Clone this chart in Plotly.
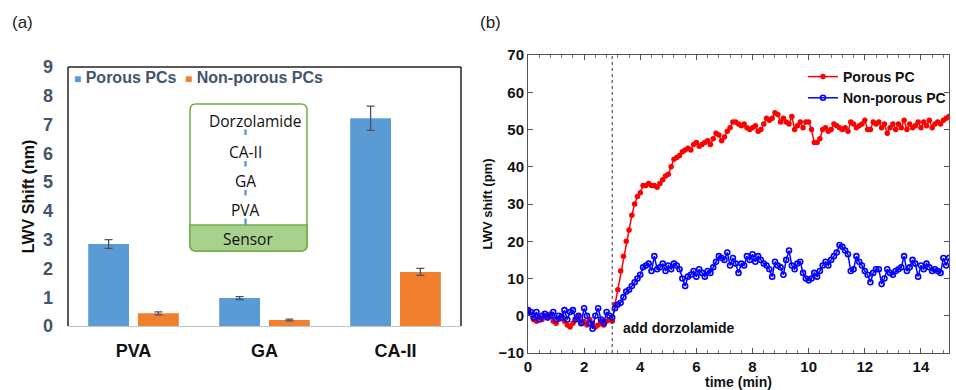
import plotly.graph_objects as go

# ---------------- Panel (a) data ----------------
categories = ["PVA", "GA", "CA-II"]
porous_vals = [2.85, 0.97, 7.22]
porous_err = [0.15, 0.05, 0.42]
nonporous_vals = [0.44, 0.21, 1.88]
nonporous_err = [0.05, 0.03, 0.12]
y_ticks_a = [0, 1, 2, 3, 4, 5, 6, 7, 8, 9]
legend_a = ["Porous PCs", "Non-porous PCs"]

# ---------------- Panel (b) data ----------------
time_min = [round(i * 0.1, 1) for i in range(151)]
porous_pc = [
    1.5, 0.5, -1, -1.5, -0.5, -1, 0, -0.5, 0.5, -1.5,
    -2, -1, 0, -1.5, -2.5, -3, -2, -1, 0, -2,
    -1.5, -2.5, -1, -2, -3, -2.5, -1.5, -2.5, -1.5, -1,
    -1.5, 3, 7, 12, 16, 20, 23, 27, 30, 32,
    33, 35, 35, 35.5, 35, 35, 34.5, 35.5, 36.5, 37.5,
    38, 40, 42, 42.5, 43, 44, 44.5, 45, 44.5, 46,
    46.5, 45.5, 46, 46.5, 47, 46, 47.5, 49, 48.5, 47,
    48, 49.5, 50.5, 52, 52, 51.5, 51, 51.5, 50.5, 50,
    50.5, 51, 49.5, 50, 51.5, 53, 52.5, 53, 54.5, 54,
    52, 53, 52, 51.5, 53.5, 50, 51, 52, 50.5, 52,
    52, 50, 46.5, 46.5, 47.5, 50, 50.5, 49.5, 50, 51.5,
    51, 50.5, 50, 50.5, 49.5, 52, 51.5, 50.5, 51, 51.5,
    52.5, 50, 50, 52, 51.5, 52, 50.5, 51.5, 49, 50.5,
    51.5, 50, 51.5, 50.5, 52.5, 50, 51.5, 50.5, 51, 52,
    50.5, 52, 51, 52.5, 50.5, 51.5, 52, 51.5, 52.5, 53,
    53.5,
]
nonporous_pc = [
    1.5, 1, -0.5, 1, -1, 0, 0.5, -0.5, 0, 1,
    -1, 0, -0.5, 1.5, -1, 1, 1.5, -1, 0, -2,
    2, 0, -2, -3.5, 0, 2, -1, -2, 1, 0,
    -0.5, 2, 3, 3.5, 5, 6.5, 7, 8, 9, 10,
    11, 13, 13.5, 14, 12, 16, 12.5, 13, 14, 12,
    13.5, 12.5, 14, 13.5, 12.5, 10, 8, 10.5, 11, 12,
    10.5, 12.5, 11.5, 10.5, 12, 11.5, 13, 14.5, 16, 15.5,
    15, 17, 13.5, 15.5, 14, 11.5, 14, 13.5, 16, 15,
    16.5, 14.5, 16, 15, 14, 13.5, 12.5, 10.5, 14.5, 13.5,
    13, 11, 15, 17.5, 13.5, 12.5, 14, 14.5, 11.5, 10,
    9.5, 10, 11.5, 10.5, 12, 13.5, 14.5, 13.5, 15, 16,
    17, 19, 18.5, 17.5, 16.5, 12, 12.5, 16, 14.5, 13.5,
    12, 11, 9, 11.5, 12.5, 12.5, 8.5, 10, 12.5, 11.5,
    11, 12, 12.5, 13, 16, 12, 13, 15, 14, 10.5,
    13.5, 12.5, 14, 13, 12, 12.5, 12, 11.5, 15.5, 13.5,
    15.5,
]
x_ticks_b = [0, 2, 4, 6, 8, 10, 12, 14, 15]
y_ticks_b = [-10, 0, 10, 20, 30, 40, 50, 60, 70]
add_time = 3

W, H = 956, 390
def px(x):
    return x / W
def py(y):
    return 1 - y / H

BLUE = "#5B9BD5"
ORANGE = "#F07F2E"
SLATE = "#44546A"
FONT = "Arial, Liberation Sans, sans-serif"

fig = go.Figure()

fig.add_trace(go.Bar(
    x=categories, y=porous_vals, name=legend_a[0], showlegend=False,
    marker=dict(color=BLUE, line=dict(width=0)),
    error_y=dict(type="data", array=porous_err, color=SLATE, thickness=1.3, width=4),
    xaxis="x", yaxis="y",
))
fig.add_trace(go.Bar(
    x=categories, y=nonporous_vals, name=legend_a[1], showlegend=False,
    marker=dict(color=ORANGE, line=dict(width=0)),
    error_y=dict(type="data", array=nonporous_err, color=SLATE, thickness=1.3, width=4),
    xaxis="x", yaxis="y",
))

fig.add_trace(go.Scatter(
    x=time_min, y=porous_pc, name="Porous PC", mode="lines+markers",
    line=dict(color="#FF0000", width=1.5),
    marker=dict(color="#FF0000", size=5.5, symbol="circle"),
    xaxis="x2", yaxis="y2",
))
fig.add_trace(go.Scatter(
    x=time_min, y=nonporous_pc, name="Non-porous PC", mode="lines+markers",
    line=dict(color="#0000FF", width=1.5),
    marker=dict(color="#0000FF", size=5, symbol="circle-open", line=dict(width=1.6, color="#0000FF")),
    xaxis="x2", yaxis="y2",
))

shapes = []
# panel (a) box: left, top, right in black
for (x0, y0, x1, y1) in [(0, 0, 0, 1), (0, 1, 1, 1), (1, 0, 1, 1)]:
    shapes.append(dict(type="line", xref="x domain", yref="y domain",
                       x0=x0, y0=y0, x1=x1, y1=y1, line=dict(color="#222", width=1.5)))

# inset: green rounded box with Sensor band
bx0, bx1, by0, by1, bs = 190, 307, 104, 251, 225
r = 6
def rr_path(x0, y0, x1, y1, r, top_round=True, bottom_round=True):
    X0, X1 = px(x0), px(x1)
    Y0, Y1 = py(y0), py(y1)
    rx, ry = r / W, r / H
    p = ""
    if top_round:
        p += f"M{X0+rx},{Y0} L{X1-rx},{Y0} Q{X1},{Y0} {X1},{Y0-ry} "
    else:
        p += f"M{X0},{Y0} L{X1},{Y0} "
    if bottom_round:
        p += f"L{X1},{Y1+ry} Q{X1},{Y1} {X1-rx},{Y1} L{X0+rx},{Y1} Q{X0},{Y1} {X0},{Y1+ry} "
    else:
        p += f"L{X1},{Y1} L{X0},{Y1} "
    if top_round:
        p += f"L{X0},{Y0-ry} Q{X0},{Y0} {X0+rx},{Y0} Z"
    else:
        p += "Z"
    return p

shapes.append(dict(type="path", xref="paper", yref="paper",
                   path=rr_path(bx0, by0, bx1, by1, r),
                   fillcolor="white", line=dict(color="#70AD47", width=1.5), layer="above"))
shapes.append(dict(type="path", xref="paper", yref="paper",
                   path=rr_path(bx0, bs, bx1, by1, r, top_round=False),
                   fillcolor="#A9D18E", line=dict(color="#70AD47", width=1.5), layer="above"))
for (ya, yb) in [(129.5, 135), (161, 166.5), (190, 195.5), (218.5, 225)]:
    shapes.append(dict(type="line", xref="paper", yref="paper",
                       x0=px(245.5), x1=px(245.5), y0=py(ya), y1=py(yb),
                       line=dict(color=BLUE, width=2.4), layer="above"))

# dotted line at add time in panel (b)
shapes.append(dict(type="line", xref="x2", yref="y2 domain",
                   x0=add_time, x1=add_time, y0=0, y1=1,
                   line=dict(color="#333", width=1, dash="dot")))

annotations = [
    dict(text="(a)", x=px(10), y=py(22), xref="paper", yref="paper", xanchor="left", yanchor="middle",
         showarrow=False, font=dict(family=FONT, size=17, color="#222")),
    dict(text="(b)", x=px(478), y=py(22), xref="paper", yref="paper", xanchor="left", yanchor="middle",
         showarrow=False, font=dict(family=FONT, size=17, color="#222")),
    dict(text="add dorzolamide", x=3.33, y=-3.2, xref="x2", yref="y2", xanchor="left", yanchor="middle",
         showarrow=False, font=dict(family=FONT, size=14, color="#111", weight="bold")),
]
# legend of panel (a)
leg_font = dict(family=FONT, size=16, color=SLATE, weight="bold")
for txt, col, xl in [(legend_a[0], BLUE, 72), (legend_a[1], ORANGE, 183)]:
    annotations.append(dict(
        text=f"<span style='color:{col};font-size:12px'>■</span> {txt}",
        x=px(xl), y=py(78), xref="paper", yref="paper", xanchor="left", yanchor="middle",
        showarrow=False, font=leg_font))

inset_font = dict(family="Open Sans, Noto Sans, sans-serif", size=15.5, color="#111")
for txt, xc, yc in [("Dorzolamide", 255.5, 121), ("CA-II", 245.5, 152), ("GA", 245.5, 181),
                    ("PVA", 245.5, 210), ("Sensor", 247.5, 238.5)]:
    annotations.append(dict(text=txt, x=px(xc), y=py(yc), xref="paper", yref="paper",
                            xanchor="center", yanchor="middle", showarrow=False, font=inset_font))

fig.update_layout(
    width=W, height=H,
    margin=dict(l=0, r=0, t=0, b=0, autoexpand=False),
    paper_bgcolor="white", plot_bgcolor="white",
    barmode="group", bargap=0.24, bargroupgap=0.18,
    xaxis=dict(domain=[px(68), px(461)], showline=True, linecolor="#BFC5CF", linewidth=1.2,
               automargin=False,
               ticks="", showgrid=False, zeroline=False, ticklabelstandoff=8,
               tickfont=dict(family=FONT, size=18, color="#111", weight="bold")),
    yaxis=dict(domain=[py(326), py(67)], range=[0, 9], tickvals=y_ticks_a, showgrid=False,
               automargin=False,
               zeroline=False, showline=False, ticks="", ticklabelstandoff=14,
               tickfont=dict(family=FONT, size=18, color=SLATE, weight="bold"),
               title=dict(text="LWV Shift (nm)", standoff=4,
                          font=dict(family=FONT, size=16, color="#111", weight="bold"))),
    xaxis2=dict(domain=[px(528), px(949)], anchor="y2", range=[0, 15], tickvals=x_ticks_b,
                automargin=False,
                showline=True, linecolor="#555", linewidth=1, mirror="ticks",
                ticks="inside", ticklen=5, tickcolor="#555", showgrid=False, zeroline=False,
                minor=dict(tickmode="linear", tick0=0, dtick=0.4, ticks="inside", ticklen=3, tickcolor="#777"),
                tickfont=dict(family=FONT, size=15, color="#111", weight="bold"),
                title=dict(text="time (min)", standoff=4,
                           font=dict(family=FONT, size=14, color="#111", weight="bold"))),
    yaxis2=dict(domain=[py(353), py(55)], anchor="x2", range=[-10, 70], tickvals=y_ticks_b,
                automargin=False,
                showline=True, linecolor="#555", linewidth=1, mirror="ticks",
                ticks="inside", ticklen=5, tickcolor="#555", showgrid=False, zeroline=False,
                tickfont=dict(family=FONT, size=15, color="#111", weight="bold"),
                title=dict(text="LWV shift (pm)", standoff=2,
                           font=dict(family=FONT, size=13, color="#111", weight="bold"))),
    showlegend=True,
    legend=dict(x=px(803), y=py(61), xanchor="left", yanchor="top",
                bgcolor="rgba(0,0,0,0)", itemwidth=30, tracegroupgap=0,
                font=dict(family=FONT, size=14, color="#111", weight="bold")),
    shapes=shapes,
    annotations=annotations,
)

fig.write_html("out.html", config={"displayModeBar": False},
               post_script="document.body.style.margin='0';document.body.style.overflow='hidden';")
